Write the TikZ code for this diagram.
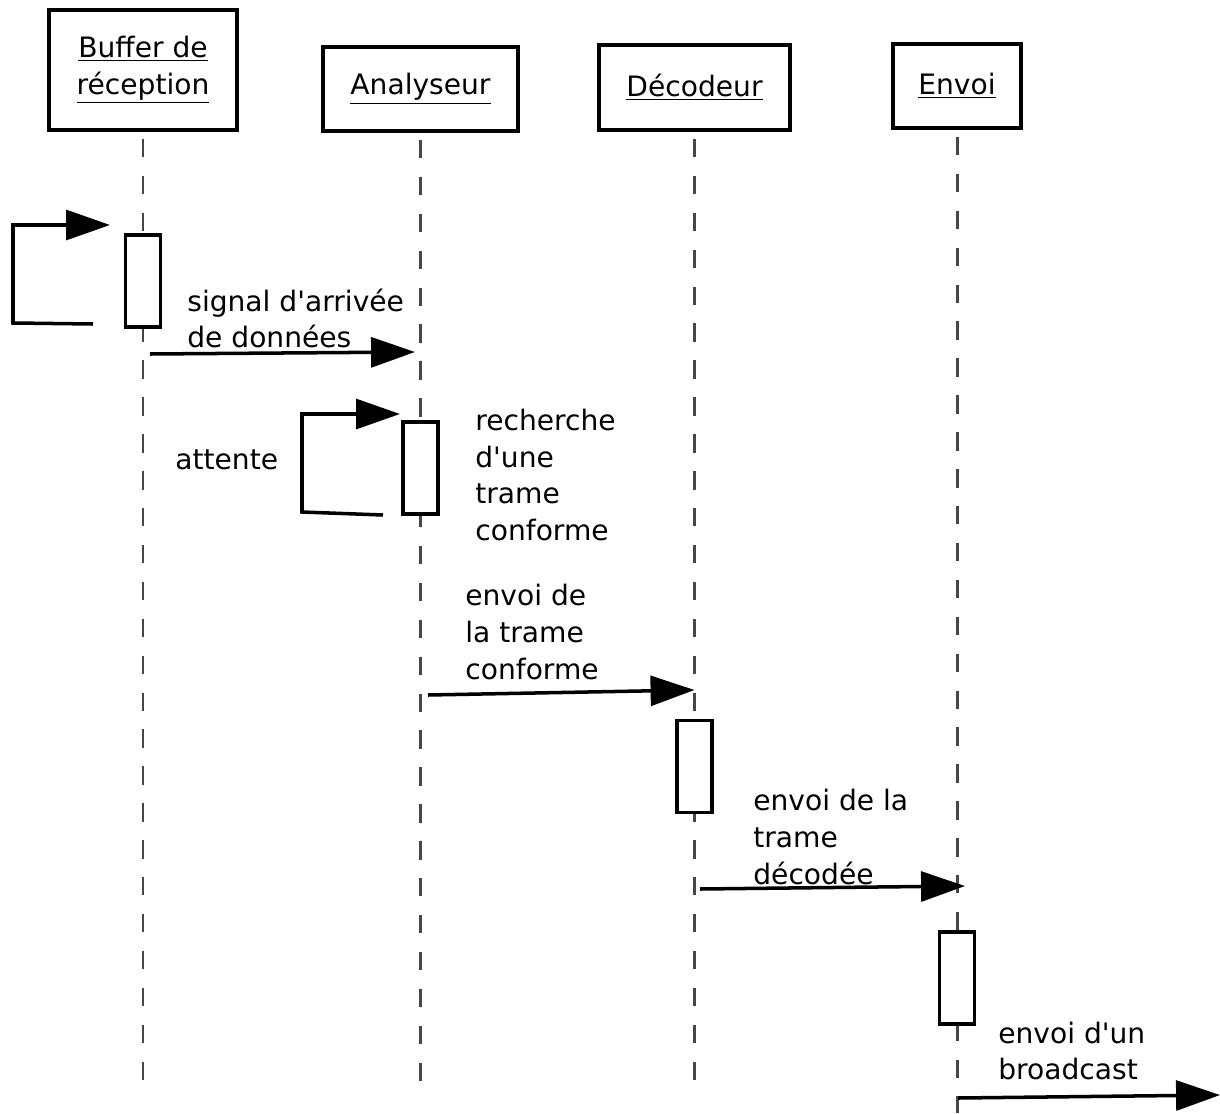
\documentclass[tikz,border=0pt]{standalone}
\usepackage{fontspec}
\setmainfont{DejaVu Sans}[Ligatures=TeXOff]
\usetikzlibrary{arrows.meta}

\begin{document}
\begin{tikzpicture}[
    font=\fontsize{16}{20.8}\selectfont,
    actor/.style={draw, rectangle, line width=2.2pt, align=center, inner sep=0pt},
    lifeline/.style={draw=black!72, line width=1.7pt, dash pattern=on 10.5pt off 10.5pt, shorten <=4pt},
    activation/.style={draw, rectangle, line width=1.8pt, fill=white, minimum width=0.7cm, minimum height=1.84cm, inner sep=0pt},
    msg/.style={line width=2pt, -{Triangle[length=25pt,width=17pt]}},
    msglabel/.style={align=left, inner sep=0pt, anchor=west}
]
    \useasboundingbox (0,0) rectangle (24.4,-22.26);

    \node[actor, minimum width=3.76cm, minimum height=2.4cm] (buffer) at (2.86,-1.4) {\underline{Buffer de}\\\underline{réception}};
    \node[actor, minimum width=3.9cm, minimum height=1.68cm] (analyseur) at (8.41,-1.78) {\underline{Analyseur}};
    \node[actor, minimum width=3.82cm, minimum height=1.7cm] (decodeur) at (13.89,-1.75) {\underline{Décodeur}};
    \node[actor, minimum width=2.56cm, minimum height=1.68cm] (envoi) at (19.14,-1.72) {\underline{Envoi}};

    \coordinate (buffer-end) at (2.86,-21.66);
    \coordinate (analyseur-end) at (8.41,-21.7);
    \coordinate (decodeur-end) at (13.89,-21.76);
    \coordinate (envoi-end) at (19.14,-22.26);

    \draw[lifeline] (buffer.south) -- (buffer-end);
    \draw[lifeline] (analyseur.south) -- (analyseur-end);
    \draw[lifeline] (decodeur.south) -- (decodeur-end);
    \draw[lifeline] (envoi.south) -- (envoi-end);

    \node[activation] (buffer-act) at (2.86,-5.62) {};
    \node[activation] (analyseur-act) at (8.41,-9.36) {};
    \node[activation] (decodeur-act) at (13.89,-15.33) {};
    \node[activation] (envoi-act) at (19.14,-19.56) {};

    \coordinate (waitA-from) at (1.86,-6.48);
    \coordinate (waitA-to) at (2.2,-4.5);
    \draw[msg] (waitA-from) -- ++(-1.6,0.02) |- (waitA-to);

    \coordinate (waitB-from) at (7.66,-10.3);
    \coordinate (waitB-to) at (8.0,-8.28);
    \draw[msg] (waitB-from) -- ++(-1.62,0.06) |- (waitB-to);

    \coordinate (signal-from) at (3.0,-7.08);
    \coordinate (signal-to) at (8.3,-7.04);
    \draw[msg] (signal-from) -- (signal-to);

    \coordinate (conforme-from) at (8.56,-13.9);
    \coordinate (conforme-to) at (13.89,-13.8);
    \draw[msg] (conforme-from) -- (conforme-to);

    \coordinate (decodee-from) at (14.0,-17.78);
    \coordinate (decodee-to) at (19.3,-17.72);
    \draw[msg] (decodee-from) -- (decodee-to);

    \coordinate (broadcast-from) at (19.16,-21.96);
    \coordinate (broadcast-to) at (24.4,-21.9);
    \draw[msg] (broadcast-from) -- (broadcast-to);

    \node[msglabel] (signal-text) at (3.74,-6.37) {signal d'arrivée\\de données};
    \node[msglabel] (attente-text) at (3.5,-9.2) {attente};
    \node[msglabel] (recherche-text) at (9.5,-9.5) {recherche\\d'une\\trame\\conforme};
    \node[msglabel] (conforme-text) at (9.3,-12.64) {envoi de\\la trame\\conforme};
    \node[msglabel] (decodee-text) at (15.06,-16.74) {envoi de la\\trame\\décodée};
    \node[msglabel] (broadcast-text) at (19.96,-21.02) {envoi d'un\\broadcast};
\end{tikzpicture}
\end{document}
